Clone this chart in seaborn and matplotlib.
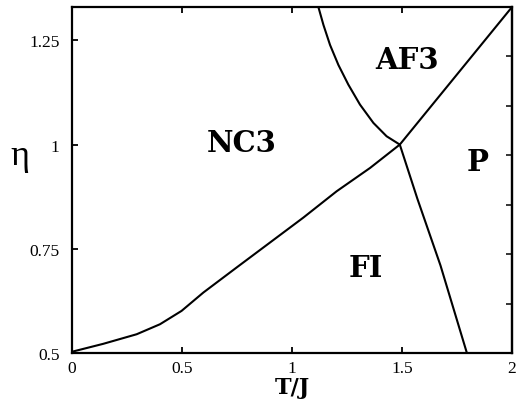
import matplotlib
matplotlib.use("Agg")
import matplotlib.pyplot as plt
import seaborn as sns
import pandas as pd
import numpy as np

sns.set_theme(style="ticks")
plt.rcParams["font.family"] = ["Liberation Serif", "DejaVu Serif"]
plt.rcParams["text.color"] = "black"
plt.rcParams["axes.labelcolor"] = "black"

# Phase boundaries in the (T/J, eta) plane
# NC3 / FI boundary, continuing above the triple point as the AF3 / P boundary
t_lower = [0.0, 0.142, 0.294, 0.40, 0.498, 0.597, 0.748, 0.90, 1.052, 1.203, 1.355, 1.49, 2.0]
eta_lower = [0.503, 0.522, 0.545, 0.569, 0.601, 0.645, 0.705, 0.765, 0.825, 0.888, 0.944, 1.0, 1.33]

# NC3 / AF3 boundary
t_af = [1.12, 1.143, 1.173, 1.211, 1.256, 1.309, 1.37, 1.43, 1.49]
eta_af = [1.33, 1.287, 1.239, 1.191, 1.144, 1.096, 1.052, 1.02, 1.0]

# FI / P boundary
t_fp = [1.49, 1.57, 1.675, 1.795]
eta_fp = [1.0, 0.87, 0.71, 0.5]

# Phase labels
phase_names = ["NC3", "AF3", "P", "FI"]
phase_t = [0.773, 1.523, 1.845, 1.336]
phase_eta = [1.005, 1.203, 0.959, 0.706]

x_ticks = [0, 0.5, 1, 1.5, 2]
x_ticklabels = ["0", "0.5", "1", "1.5", "2"]
y_ticks = [0.5, 0.75, 1, 1.25]
y_ticklabels = ["0.5", "0.75", "1", "1.25"]

fig = plt.figure(figsize=(5.19, 4.02), dpi=100)
ax = fig.add_axes([0.1387, 0.1194, 0.9865 - 0.1387, 0.980 - 0.1194])

for t, e in [(t_lower, eta_lower), (t_af, eta_af), (t_fp, eta_fp)]:
    df = pd.DataFrame({"T": t, "eta": e})
    sns.lineplot(data=df, x="T", y="eta", sort=False, estimator=None,
                 color="black", linewidth=1.5, ax=ax)

ax.set_xlim(0, 2)
ax.set_ylim(0.5, 1.33)

for name, t, e in zip(phase_names, phase_t, phase_eta):
    ax.text(t, e, name, ha="center", va="center", fontsize=21,
            fontweight="bold", color="black", family="DejaVu Serif")

ax.set_xticks(x_ticks)
ax.set_xticklabels(x_ticklabels)
ax.set_yticks(y_ticks)
ax.set_yticklabels(y_ticklabels)
ax.tick_params(axis="both", direction="in", length=4, width=1.3,
               labelsize=12.5, colors="black", top=True)
ax.tick_params(axis="x", pad=5)
ax.tick_params(axis="y", pad=9)

# Right-hand frame ticks at seven equal divisions
sec = ax.secondary_yaxis("right")
sec.set_yticks(list(np.linspace(0.5, 1.33, 8)[1:-1]))
sec.tick_params(direction="in", length=4, width=1.3, labelright=False)
sec.spines["right"].set_linewidth(1.6)

for sp in ax.spines.values():
    sp.set_linewidth(1.6)
    sp.set_color("black")

ax.set_xlabel("T/J", fontsize=16, fontweight="bold", labelpad=0,
              family="DejaVu Serif")
ax.set_ylabel("η", fontsize=26, rotation=0, va="center", ha="center")
ax.yaxis.set_label_coords(-0.118, 0.57)

fig.savefig("out.png", dpi=100)
